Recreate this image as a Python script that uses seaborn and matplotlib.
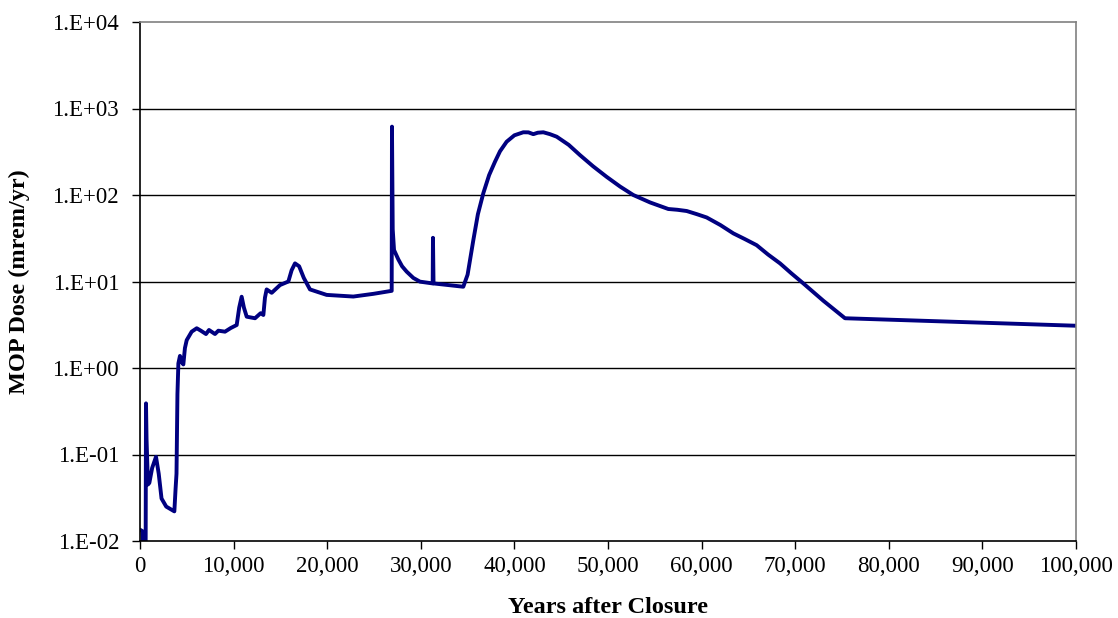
import matplotlib
matplotlib.use("Agg")
import matplotlib.pyplot as plt
import seaborn as sns
import pandas as pd
import numpy as np

years = [0, 250, 400, 600, 641, 700, 850, 1000, 1300, 1710, 2000, 2300, 2800, 3670,
         3800, 3900, 4000, 4100, 4270, 4500, 4630, 4800, 4990, 5520, 6060, 6500, 7050,
         7370, 8010, 8370, 9080, 9700, 10330, 10600, 10860, 11100, 11400, 12290, 12890,
         13180, 13350, 13530, 14070, 14960, 15850, 16200, 16560, 17000, 17500, 18160,
         19940, 22790, 24930, 26890, 26920, 27000, 27140, 27600, 28000, 28490, 29200,
         29910, 31270, 31300, 31360, 34540, 35000, 35610, 36100, 36680, 37300, 37930,
         38460, 39170, 40000, 40950, 41500, 42020, 42500, 43090, 43800, 44520, 45800,
         47010, 48400, 49860, 51300, 52700, 54500, 56440, 57400, 58410, 59500, 60540,
         62000, 63390, 64600, 65880, 67100, 68380, 69600, 70870, 73000, 75320, 100000]
dose = [0.0135, 0.013, 0.006, 0.006, 0.39, 0.15, 0.045, 0.047, 0.07, 0.094, 0.06, 0.031,
        0.025, 0.022, 0.04, 0.06, 0.5, 1.13, 1.38, 1.15, 1.1, 1.7, 2.1, 2.63, 2.88, 2.7,
        2.47, 2.75, 2.47, 2.7, 2.63, 2.9, 3.14, 5.0, 6.67, 5.0, 3.92, 3.76, 4.3, 4.1, 6.5,
        8.1, 7.4, 9.1, 10.0, 13.5, 16.2, 15.0, 11.0, 8.1, 7.0, 6.7, 7.2, 7.8, 617, 40,
        23.1, 18, 15, 13, 11, 9.96, 9.5, 32, 9.5, 8.7, 12, 30, 60, 105, 170, 243, 320,
        413, 490, 531, 530, 505, 525, 531, 505, 472, 380, 289, 215, 162, 125, 100, 82,
        68.9, 67.5, 65.3, 60, 55, 45, 36, 31, 26.3, 20.5, 16.2, 12.4, 9.5, 6.0, 3.76, 3.08]

y_ticks = [1e-2, 1e-1, 1e0, 1e1, 1e2, 1e3, 1e4]
y_tick_labels = ["1.E-02", "1.E-01", "1.E+00", "1.E+01", "1.E+02", "1.E+03", "1.E+04"]
x_ticks = [0, 10000, 20000, 30000, 40000, 50000, 60000, 70000, 80000, 90000, 100000]
x_tick_labels = ["0", "10,000", "20,000", "30,000", "40,000", "50,000", "60,000",
                 "70,000", "80,000", "90,000", "100,000"]

df = pd.DataFrame({"Years": years, "Dose": dose})

sns.set_theme(style="white")
plt.rcParams["font.family"] = ["Liberation Serif", "DejaVu Serif"]

fig = plt.figure(figsize=(11.18, 6.18), dpi=100)
ax = fig.add_axes([140 / 1118, 1 - 541 / 618, 936 / 1118, 519 / 618])

sns.lineplot(data=df, x="Years", y="Dose", ax=ax, sort=False, estimator=None,
             color="#000080", linewidth=2.8)
ax.lines[0].set_solid_joinstyle("round")

ax.set_yscale("log")
ax.set_ylim(1e-2, 1e4)
ax.set_xlim(0, 100000)
ax.set_yticks(y_ticks)
ax.set_yticklabels(y_tick_labels)
ax.yaxis.set_minor_locator(matplotlib.ticker.NullLocator())
ax.set_xticks(x_ticks)
ax.set_xticklabels(x_tick_labels)

for v in y_ticks[1:-1]:
    ax.axhline(v, color="black", linewidth=1.0, zorder=0)

ax.tick_params(axis="both", which="major", direction="out", length=6, width=1,
               color="black", labelsize=16.5, labelcolor="black")
ax.tick_params(axis="y", pad=9)
ax.tick_params(axis="x", pad=5)
ax.tick_params(left=True, bottom=True)

ax.spines["left"].set_color("black")
ax.spines["bottom"].set_color("black")
ax.spines["left"].set_linewidth(1.2)
ax.spines["bottom"].set_linewidth(1.2)
ax.spines["top"].set_color("#808080")
ax.spines["right"].set_color("#808080")
ax.spines["top"].set_linewidth(1.2)
ax.spines["right"].set_linewidth(1.2)

ax.set_xlabel("Years after Closure", fontsize=17.5, fontweight="bold", labelpad=14,
              color="black")
ax.set_ylabel("MOP Dose (mrem/yr)", fontsize=17.5, fontweight="bold", labelpad=16,
              color="black")

fig.savefig("out.png", dpi=100)
